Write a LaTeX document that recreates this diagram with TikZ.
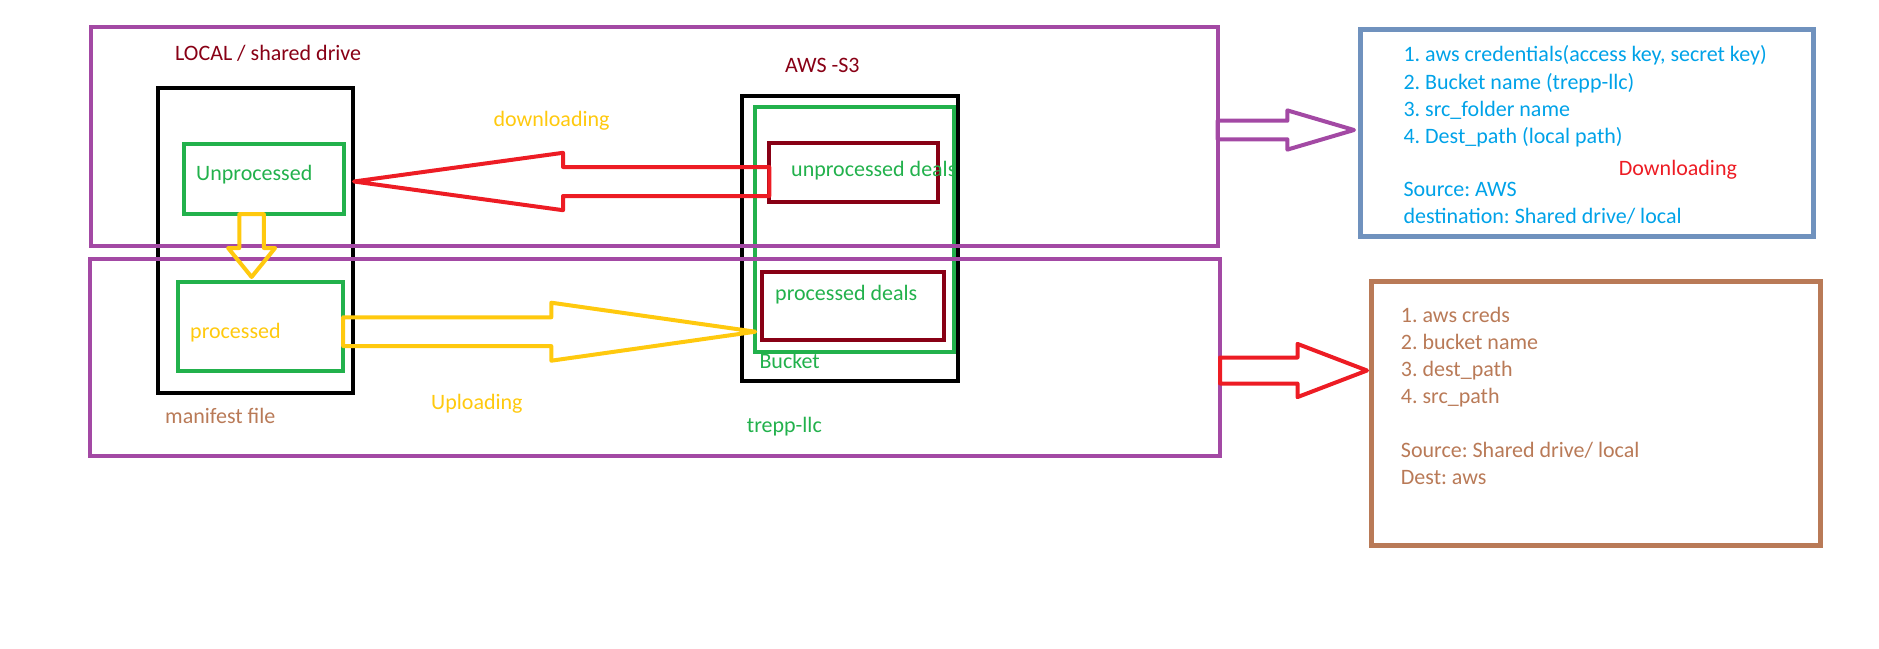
\documentclass[tikz,border=0pt]{standalone}
\usepackage{fontspec}
\setmainfont{Carlito}
\usetikzlibrary{calc,fit}

\definecolor{pbar}{HTML}{A349A4}
\definecolor{dred}{HTML}{880015}
\definecolor{pgreen}{HTML}{22B14C}
\definecolor{pyellow}{HTML}{FFC90E}
\definecolor{pred}{HTML}{ED1C24}
\definecolor{pbrown}{HTML}{B97A57}
\definecolor{pblue}{HTML}{00A2E8}
\definecolor{pslate}{HTML}{7092BE}

\tikzset{
  frame/.style={draw=#1, line width=4pt, inner sep=0pt, outer sep=0pt},
  txt/.style={text=#1, anchor=base west, inner sep=0pt, font=\fontsize{22pt}{27pt}\selectfont\frenchspacing},
  fat/.style={draw=#1, line width=4pt, line join=round}
}

% hollow block arrow: [style]{from}{to}{half shaft}{half head}{head length}
\newcommand{\fatarrow}[6][]{%
  \coordinate (fa-h) at ($(#3)!#6!(#2)$);
  \draw[#1] ($(#2)!#4!90:(#3)$) -- ($(fa-h)!#4!-90:(#2)$) -- ($(fa-h)!#5!-90:(#2)$) -- (#3)
    -- ($(fa-h)!#5!90:(#2)$) -- ($(fa-h)!#4!90:(#2)$) -- ($(#2)!#4!-90:(#3)$) -- cycle;
}

\begin{document}
\begin{tikzpicture}[x=1pt,y=-1pt]
\useasboundingbox (0,0) rectangle (1879,648);

% local side
\node[frame=black, fit={(157.8,87.8) (352.8,393.2)}] (localdrive) {};
\node[frame=pgreen, fit={(183.5,144.2) (344.3,214.2)}] (unproc) {};
\node[frame=pgreen, fit={(177.7,282.3) (343.2,371.3)}] (proc) {};

% s3 side
\node[frame=black, fit={(742.3,95.7) (957.7,381)}] (s3) {};
\node[frame=pgreen, fit={(755.3,106.7) (954,352)}] (bucket) {};
\node[frame=dred, fit={(769.3,143.3) (938.3,202)}] (undeals) {};
\node[frame=dred, fit={(762.3,272.3) (944.3,340)}] (pdeals) {};

% the two bands
\node[frame=pbar, fit={(90.5,27.3) (1217.6,245.5)}] (topband) {};
\node[frame=pbar, fit={(89.5,259.3) (1220,456)}] (botband) {};

% info boxes
\node[frame=pslate, line width=5pt, fit={(1360.5,29.3) (1813,236.6)}] (dlinfo) {};
\node[frame=pbrown, line width=5pt, fit={(1371.8,281.3) (1820.8,545)}] (ulinfo) {};

% arrows
\coordinate (dl-from) at (undeals.west |- 0,181.5);
\coordinate (dl-to) at (354,181.5);
\fatarrow[fat=pred]{dl-from}{dl-to}{14.5pt}{28.7pt}{209pt}
\coordinate (ul-from) at (proc.east |- 0,331.7);
\coordinate (ul-to) at (bucket.west |- 0,331.7);
\fatarrow[fat=pyellow]{ul-from}{ul-to}{14.4pt}{29pt}{204pt}
\coordinate (dn-from) at (unproc.south -| 251.6,0);
\coordinate (dn-to) at (251.6,277);
\fatarrow[fat=pyellow]{dn-from}{dn-to}{12.3pt}{23.5pt}{29pt}
\coordinate (pa-from) at (topband.east |- 0,130);
\coordinate (pa-to) at (1354,130);
\fatarrow[fat=pbar]{pa-from}{pa-to}{9.3pt}{19.6pt}{66.6pt}
\coordinate (ra-from) at (botband.east |- 0,370.5);
\coordinate (ra-to) at (1367,370.5);
\fatarrow[fat=pred]{ra-from}{ra-to}{13pt}{26.6pt}{69.5pt}

% labels
\node[txt=dred] (lbl-local) at (175,60) {LOCAL / shared drive};
\node[txt=dred] (lbl-s3) at (785,72.3) {AWS -S3};
\node[txt=pyellow] (lbl-down) at (493.3,126) {downloading};
\node[txt=pgreen] (lbl-unproc) at (196,180) {Unprocessed};
\node[txt=pgreen] (lbl-undeals) at (791,176.7) {unprocessed deals};
\node[txt=pyellow] (lbl-proc) at (190,338.3) {processed};
\node[txt=pgreen] (lbl-pdeals) at (775,300) {processed deals};
\node[txt=pgreen] (lbl-bucket) at (759.3,368.3) {Bucket};
\node[txt=pbrown] (lbl-manifest) at (165,423.3) {manifest file};
\node[txt=pyellow] (lbl-up) at (431,409.3) {Uploading};
\node[txt=pgreen] (lbl-trepp) at (746.7,432.7) {trepp-llc};

% downloading notes
\node[txt=pblue] (dl-1) at (1403.3,61.7) {1. aws credentials(access key, secret key)};
\node[txt=pblue] (dl-2) at (1403.3,89.3) {2. Bucket name (trepp-llc)};
\node[txt=pblue] (dl-3) at (1403.3,116) {3. src\_folder name};
\node[txt=pblue] (dl-4) at (1403.3,143.3) {4. Dest\_path (local path)};
\node[txt=pred] (dl-tag) at (1618.7,175.7) {Downloading};
\node[txt=pblue] (dl-src) at (1403.3,196.7) {Source: AWS};
\node[txt=pblue] (dl-dst) at (1403.3,223.3) {destination: Shared drive/ local};

% uploading notes
\node[txt=pbrown] (ul-1) at (1400.7,322.7) {1. aws creds};
\node[txt=pbrown] (ul-2) at (1400.7,349.3) {2. bucket name};
\node[txt=pbrown] (ul-3) at (1400.7,376.7) {3. dest\_path};
\node[txt=pbrown] (ul-4) at (1400.7,403.3) {4. src\_path};
\node[txt=pbrown] (ul-src) at (1400.7,457.3) {Source: Shared drive/ local};
\node[txt=pbrown] (ul-dst) at (1400.7,484) {Dest: aws};

\end{tikzpicture}
\end{document}
